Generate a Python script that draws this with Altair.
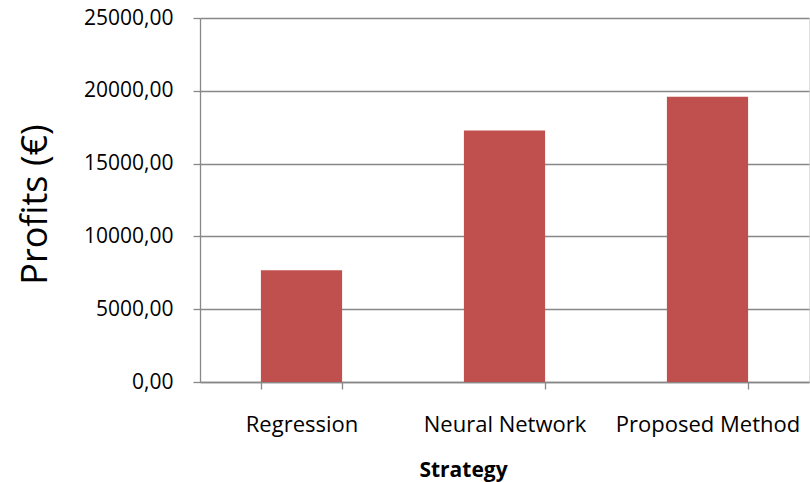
import altair as alt
import pandas as pd

# Total profit per trading strategy (in euros)
strategies = ["Regression", "Neural Network", "Proposed Method"]
profits = [7680, 17280, 19590]
y_ticks = [0, 5000, 10000, 15000, 20000, 25000]

df = pd.DataFrame({"Strategy": strategies, "Profits": profits})

FONT = "Open Sans"
GREY = "#888888"

chart = alt.Chart(df).mark_bar(color="#C0504D").encode(
    x=alt.X(
        "Strategy:N",
        sort=strategies,
        scale=alt.Scale(paddingInner=0.6, paddingOuter=0.3),
        axis=alt.Axis(
            title="Strategy",
            labelAngle=0,
            labelLimit=0,
            tickBand="extent",
            tickSize=7,
            tickColor=GREY,
            tickWidth=1.3,
            domainColor=GREY,
            domainWidth=1.3,
            labelFont=FONT,
            labelFontSize=22,
            labelColor="#000000",
            labelPadding=25,
            titleFont=FONT,
            titleFontSize=21,
            titleFontWeight="bold",
            titleColor="#000000",
            titleX=263,
            titleY=94,
            titleBaseline="alphabetic",
        ),
    ),
    y=alt.Y(
        "Profits:Q",
        scale=alt.Scale(domain=[0, 25000], nice=False),
        axis=alt.Axis(
            values=y_ticks,
            labelExpr="replace(format(datum.value, '.2f'), '.', ',')",
            title="Profits (€)",
            tickSize=7,
            tickColor=GREY,
            tickWidth=1.3,
            domainColor=GREY,
            domainWidth=1.3,
            gridColor=GREY,
            gridWidth=1.3,
            labelFont=FONT,
            labelFontSize=21,
            labelColor="#000000",
            labelPadding=20,
            titleFont=FONT,
            titleFontSize=36,
            titleFontWeight="normal",
            titleColor="#000000",
            titleAngle=-90,
            titleX=-154,
            titleY=186,
            titleAlign="center",
            titleBaseline="alphabetic",
        ),
    ),
).properties(
    width=609,
    height=364,
    padding={"left": 200, "top": 18, "right": 1, "bottom": 100},
    autosize=alt.AutoSizeParams(type="none"),
).configure_view(
    strokeWidth=0
).configure(
    background="#ffffff"
)

chart.save("out.html", embed_options={"renderer": "svg", "actions": False})
